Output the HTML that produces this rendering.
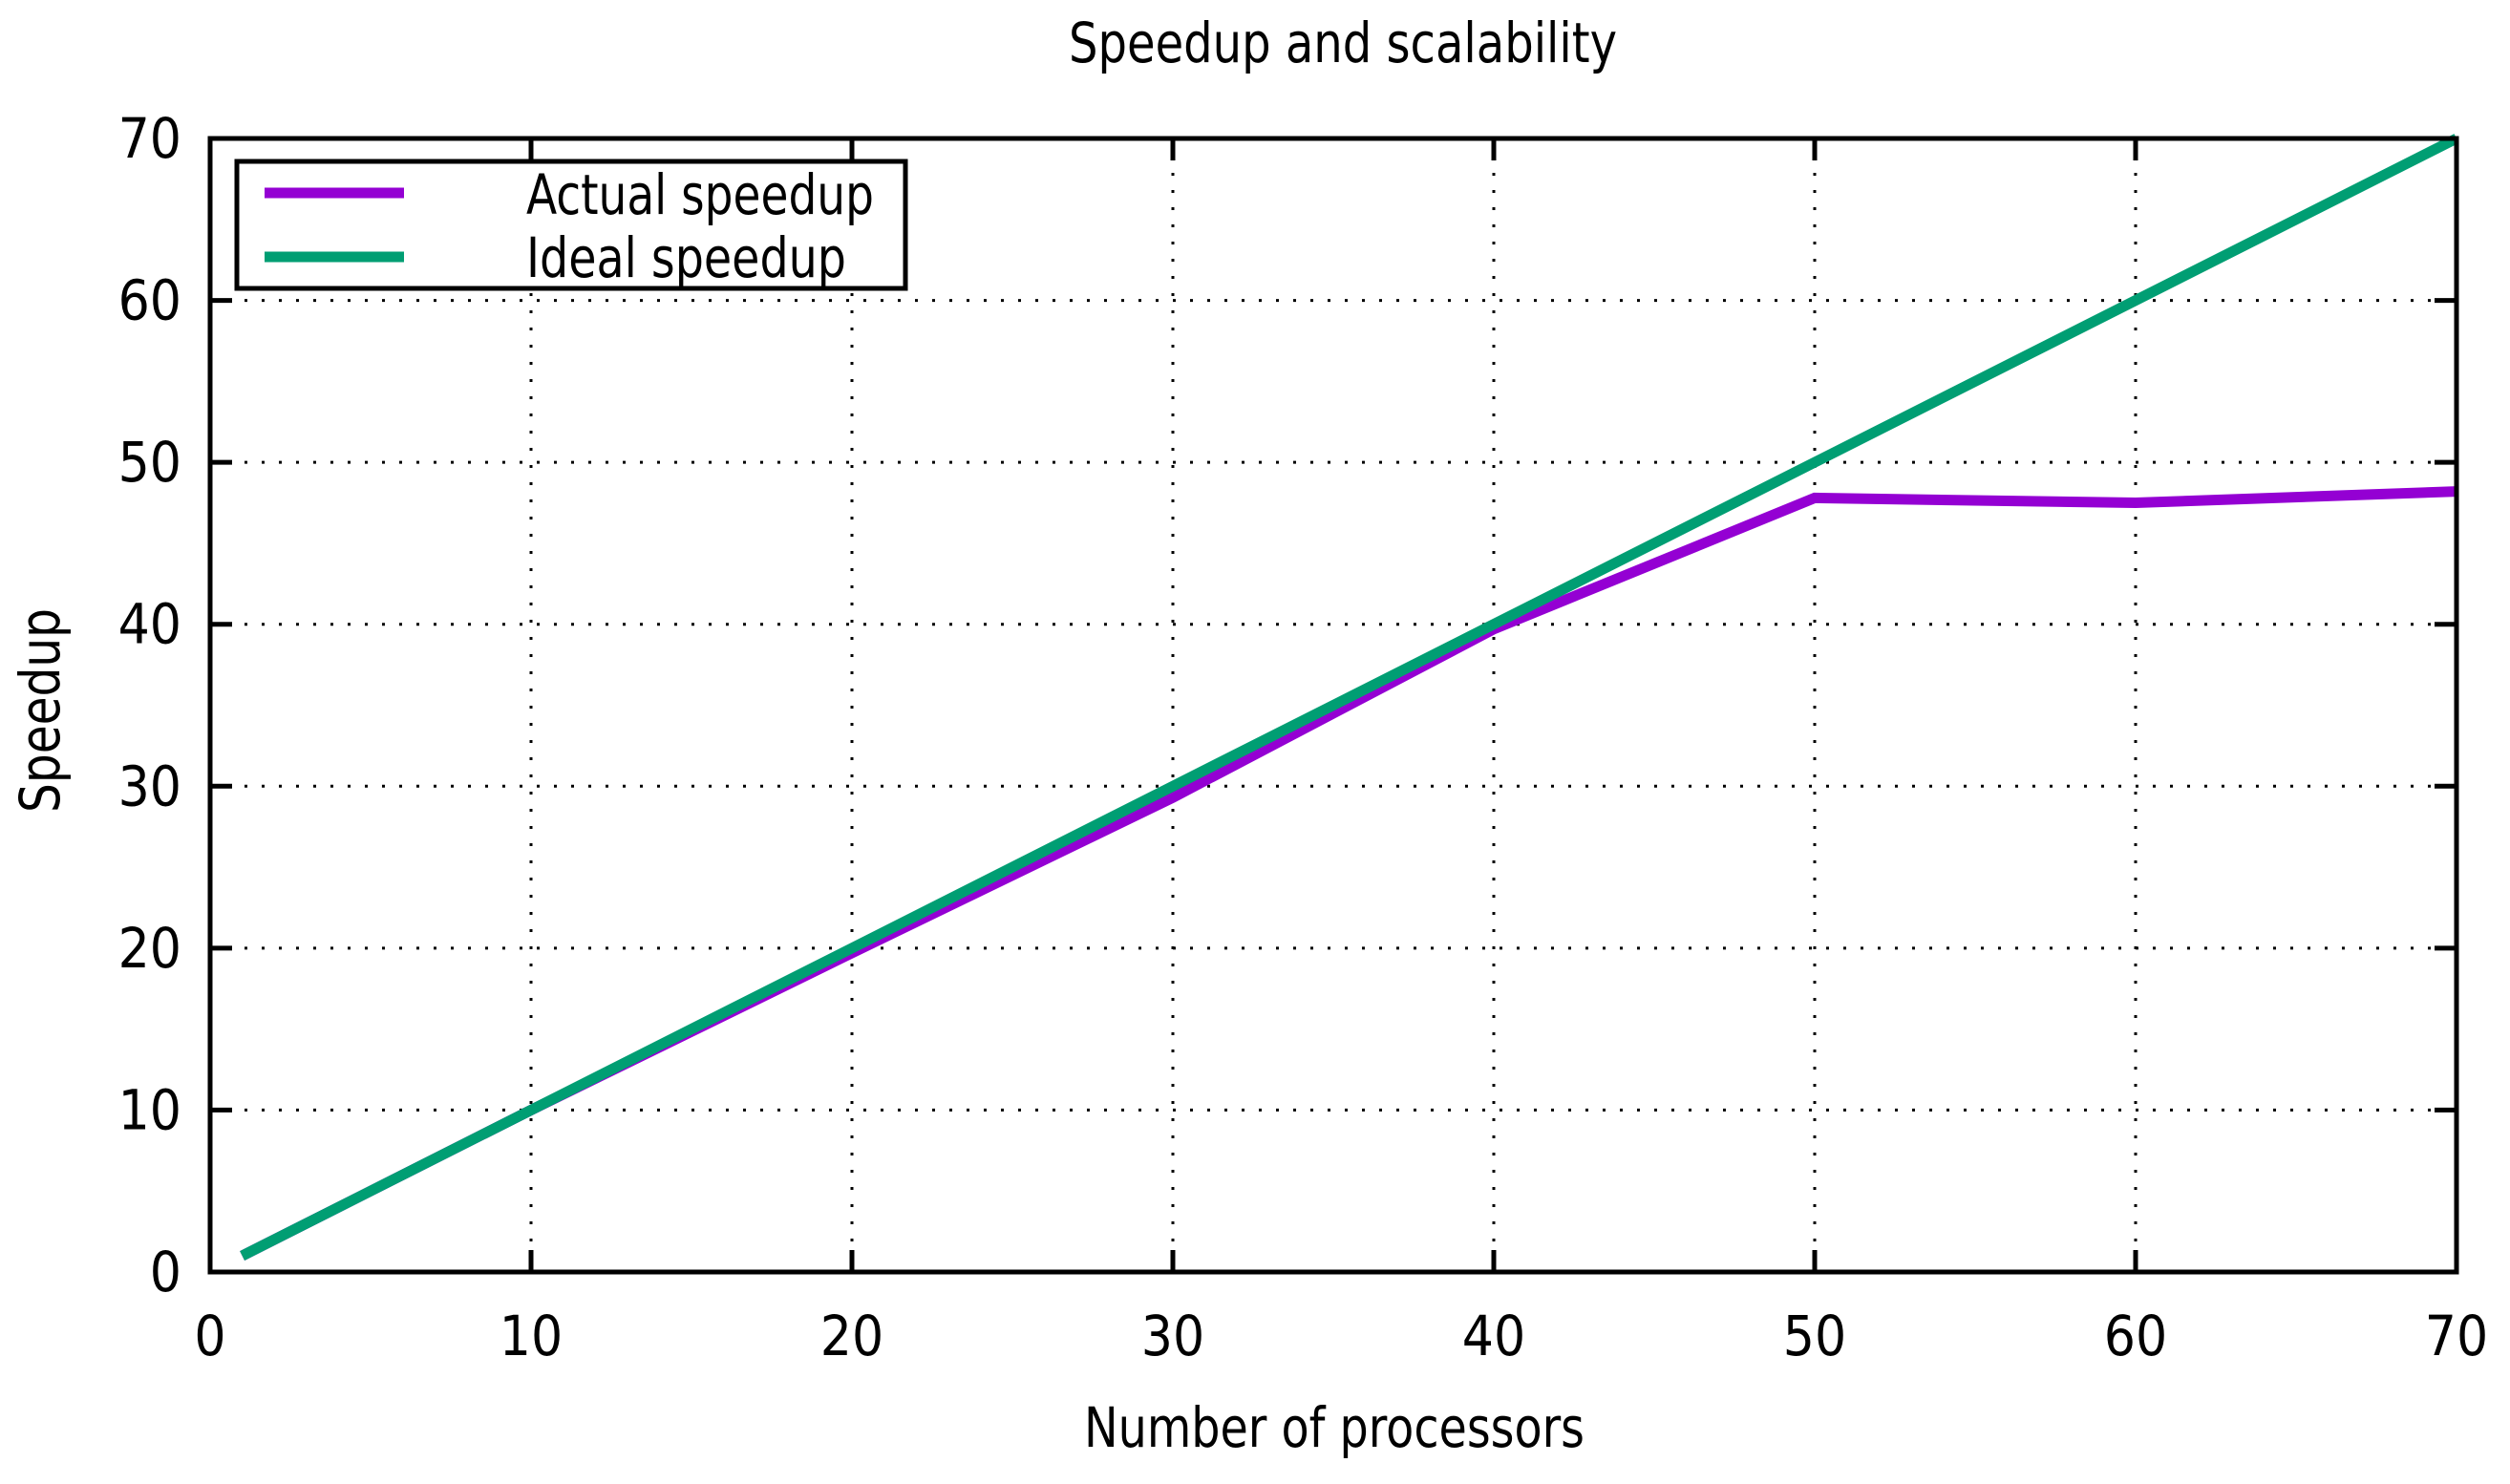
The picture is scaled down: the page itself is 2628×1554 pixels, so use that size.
<!DOCTYPE html>
<html><head><meta charset="utf-8"><style>
html,body{margin:0;padding:0;background:#fff;}
svg{display:block;}
text{font-family:"DejaVu Sans Condensed","DejaVu Sans","Liberation Sans",sans-serif;fill:#000;}
</style></head><body>
<svg id="chart" width="2628" height="1554" viewBox="0 0 2628 1554">
<text x="1406" y="65" font-size="58" text-anchor="middle" textLength="574" lengthAdjust="spacingAndGlyphs">Speedup and scalability</text>
<g id="grid"></g>
<g id="ticks"></g>
<g id="series"></g>
<rect x="220" y="145" width="2352" height="1187" fill="none" stroke="#000" stroke-width="5"/>
<text x="1397" y="1515" font-size="58" text-anchor="middle" textLength="524" lengthAdjust="spacingAndGlyphs">Number of processors</text>
<text transform="translate(62,744) rotate(-90)" font-size="58" text-anchor="middle" textLength="214" lengthAdjust="spacingAndGlyphs">Speedup</text>
<g>
<rect x="248" y="169" width="700" height="133" fill="#fff" stroke="#000" stroke-width="5"/>
<line x1="277" y1="202" x2="423" y2="202" stroke="#9400d3" stroke-width="11"/>
<text x="551" y="224" font-size="58" textLength="364" lengthAdjust="spacingAndGlyphs">Actual speedup</text>
<line x1="277" y1="269" x2="423" y2="269" stroke="#009e73" stroke-width="11"/>
<text x="551" y="290" font-size="58" textLength="335" lengthAdjust="spacingAndGlyphs">Ideal speedup</text>
</g>
</svg>
<script>
const xTicks = [0,10,20,30,40,50,60,70];
const yTicks = [0,10,20,30,40,50,60,70];
const procs = [1,10,20,30,40,50,60,70];
const actual = [1,10,19.7,29.3,39.7,47.8,47.5,48.2];
const ideal = [1,10,20,30,40,50,60,70];

const NS='http://www.w3.org/2000/svg';
const L=220,R=2572,T=145,B=1332;
const xs=v=>L+(v-0)/(70-0)*(R-L);
const ys=v=>B-(v-0)/(70-0)*(B-T);
function mk(tag,attrs,parent){const e=document.createElementNS(NS,tag);for(const k in attrs)e.setAttribute(k,attrs[k]);document.getElementById(parent).appendChild(e);return e;}
xTicks.forEach(t=>{
  const x=xs(t);
  if(t>0&&t<70){const g=mk('line',{x1:x,y1:T,x2:x,y2:B,stroke:'#000','stroke-width':3,'stroke-dasharray':'3 15'},'grid');
  
  }
  const a=mk('line',{x1:x,y1:B,x2:x,y2:B-23,stroke:'#000','stroke-width':5},'ticks');
  
  
  const b=mk('line',{x1:x,y1:T,x2:x,y2:T+23,stroke:'#000','stroke-width':5},'ticks');
  
  
  const tx=mk('text',{x:x,y:1419,'font-size':58,'text-anchor':'middle'},'ticks');
  tx.textContent=String(t);
  
  
});
yTicks.forEach(t=>{
  const y=ys(t);
  if(t>0&&t<70){const g=mk('line',{x1:L,y1:y,x2:R,y2:y,stroke:'#000','stroke-width':3,'stroke-dasharray':'3 15'},'grid');
  
  }
  const a=mk('line',{x1:L,y1:y,x2:L+23,y2:y,stroke:'#000','stroke-width':5},'ticks');
  
  
  const b=mk('line',{x1:R,y1:y,x2:R-23,y2:y,stroke:'#000','stroke-width':5},'ticks');
  
  
  const tx=mk('text',{x:190,y:y+20,'font-size':58,'text-anchor':'end'},'ticks');
  tx.textContent=String(t);
  
  
});
const pa=mk('polyline',{points:procs.map((p,i)=>xs(p)+','+ys(actual[i])).join(' '),fill:'none',stroke:'#9400d3','stroke-width':11,'stroke-linejoin':'miter'},'series');


const pi=mk('polyline',{points:procs.map((p,i)=>xs(p)+','+ys(ideal[i])).join(' '),fill:'none',stroke:'#009e73','stroke-width':11},'series');


</script>
</body></html>
